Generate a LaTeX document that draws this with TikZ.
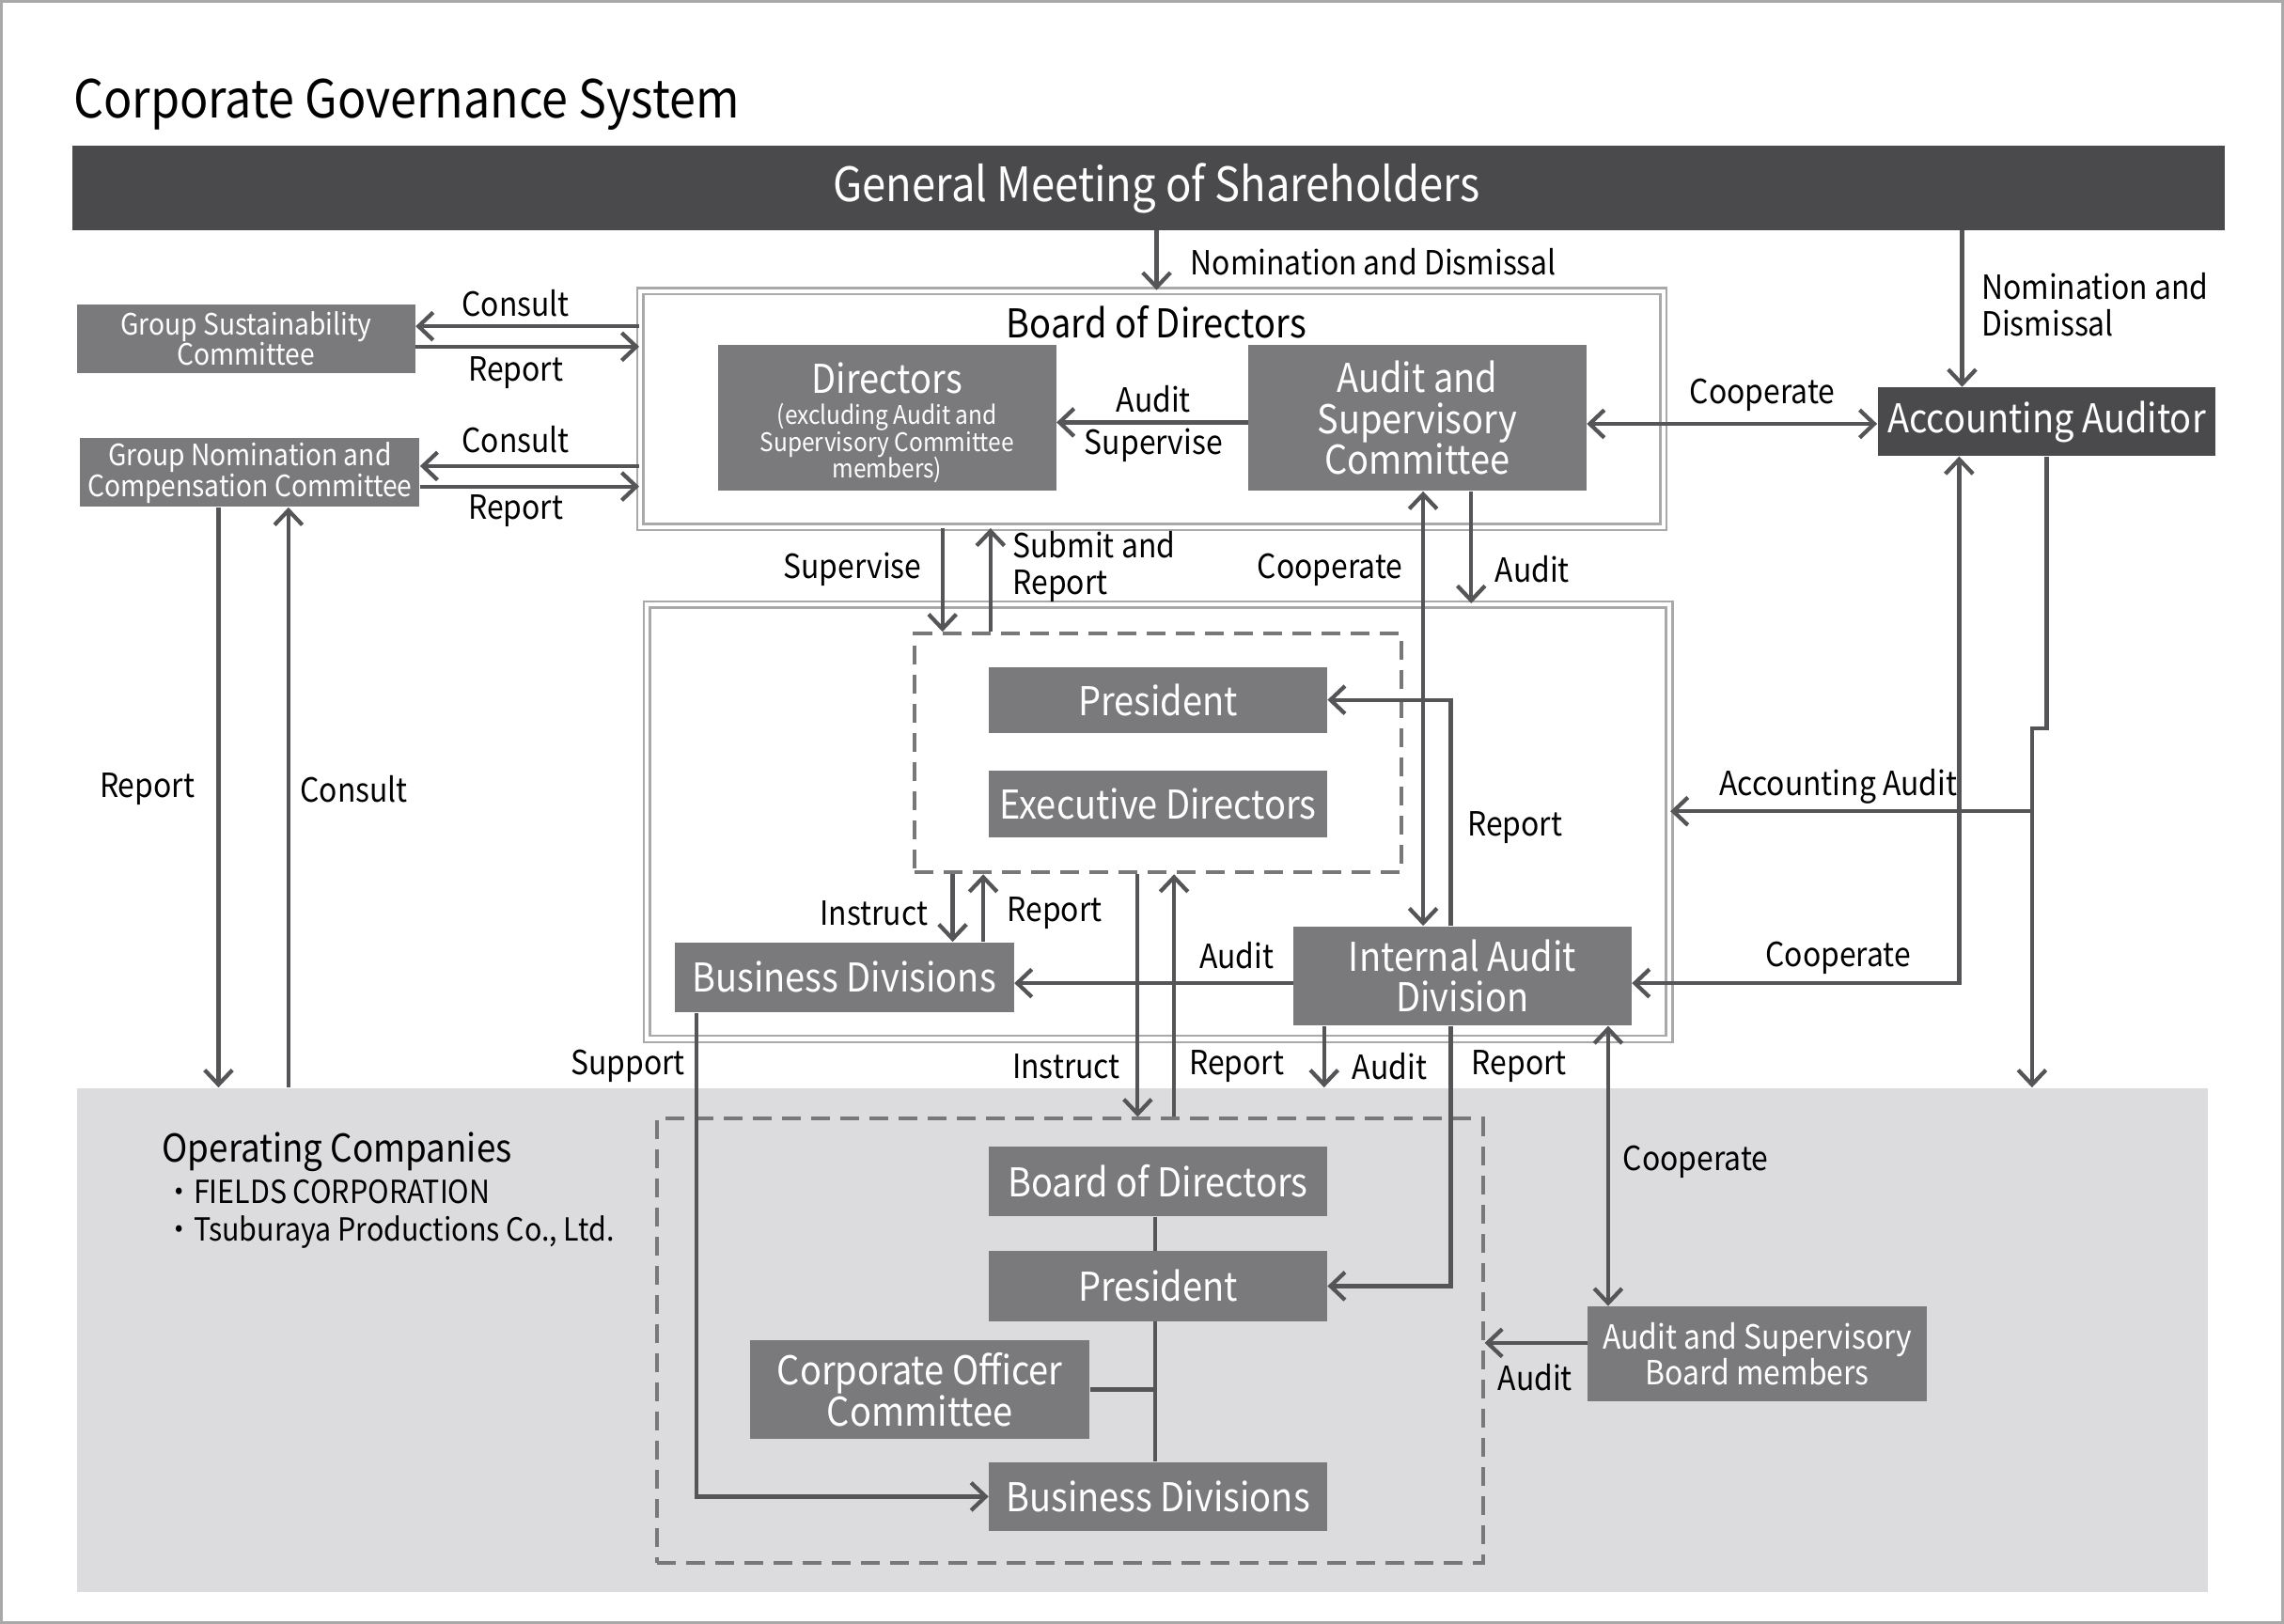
\documentclass[tikz,border=0pt]{standalone}
\usepackage{fontspec}
\setmainfont{Noto Sans CJK JP}[FakeStretch=0.9]
\usetikzlibrary{arrows.meta}
\definecolor{boxg}{HTML}{7A7A7C}
\definecolor{darkg}{HTML}{4A4A4C}
\definecolor{lineg}{HTML}{555557}
\definecolor{frameg}{HTML}{A9A9A9}
\definecolor{areag}{HTML}{DCDCDE}
\definecolor{dashg}{HTML}{787878}
\newcommand\dirnote{\fontsize{10}{10.6}\selectfont}
\begin{document}
\begin{tikzpicture}[
    x=0.2mm, y=-0.2mm,
    >={Straight Barb[length=2mm,width=3.8mm]},
    every node/.style={inner sep=0},
    box/.style={fill=boxg, text=white, align=center, minimum width=46.4mm, minimum height=9.4mm,
        font=\fontsize{15.5}{16}\selectfont},
    darkbox/.style={box, fill=darkg},
    smallbox/.style={box, font=\fontsize{11.5}{12}\selectfont},
    dblframe/.style={draw=frameg, line width=0.3mm, double=white, double distance=0.58mm},
    dashbox/.style={draw=dashg, line width=0.5mm, dash pattern=on 2.6mm off 1.4mm},
    conn/.style={draw=lineg, line width=0.55mm},
    lbl/.style={font=\fontsize{13}{14.5}\selectfont, align=left}]
    \useasboundingbox (0,0) rectangle (1568,1115);
    \draw[frameg, line width=0.5mm] (1,1) rectangle (1567,1114);
    \node (opc) [fill=areag, minimum width=292.6mm, minimum height=69.2mm] at (784.5,920) {};
    \node (title) [anchor=base west, font=\fontsize{20.5}{24}\selectfont] at (50,81) {Corporate Governance System};
    \node (gms) [darkbox, minimum width=295.4mm, minimum height=11.6mm, font=\fontsize{18.5}{22}\selectfont] at (788.5,129) {\hspace*{2.2mm}General Meeting of Shareholders};
    \node (bod) [dblframe, minimum width=140.5mm, minimum height=32.4mm] at (790.8,280.9) {};
    \node (bodt) [font=\fontsize{15.5}{17}\selectfont] at (794,221) {Board of Directors};
    \node (dir) [box, minimum height=20mm] at (609,287) {\rule{0pt}{16pt}Directors\\[-4pt]\dirnote (excluding Audit and\\[-5.5pt]\dirnote Supervisory Committee\\[-5.5pt]\dirnote members)};
    \node (asc) [box, minimum height=20mm] at (973,287) {Audit and\\Supervisory\\Committee};
    \node (gsc) [smallbox] at (169,232.5) {Group Sustainability\\Committee};
    \node (gncc) [smallbox, minimum width=46.6mm] at (171.5,324.5) {Group Nomination and\\Compensation Committee};
    \node (aa) [darkbox] at (1405,289.5) {Accounting Auditor};
    \node (exe) [dblframe, minimum width=140.4mm, minimum height=59.7mm] at (795,564.2) {};
    \node (exd) [dashbox, minimum width=66.8mm, minimum height=32.8mm] at (795,517) {};
    \node (pres) [box, minimum height=9mm] at (795,480.5) {President};
    \node (exdir) [box, minimum height=9.2mm] at (795,552) {Executive Directors};
    \node (bd) [box, minimum width=46.6mm, minimum height=9.6mm] at (579.5,671) {Business Divisions};
    \node (iad) [box, minimum height=13.6mm] at (1004,670) {Internal Audit\\Division};
    \node (opd) [dashbox, minimum width=113.4mm, minimum height=61mm] at (734.5,920.5) {};
    \node (obod) [box, minimum height=9.6mm] at (795,811) {Board of Directors};
    \node (opres) [box, minimum height=9.6mm] at (795,883) {President};
    \node (coc) [box, minimum width=46.6mm, minimum height=13.6mm] at (631.5,954) {Corporate Officer\\Committee};
    \node (obd) [box] at (795,1027.5) {Business Divisions};
    \node (asb) [box, minimum width=46.6mm, minimum height=13mm, font=\fontsize{13}{14.2}\selectfont] at (1206.5,929.5) {Audit and Supervisory\\Board members};
    \node (opt) [anchor=base west, font=\fontsize{15}{17}\selectfont] at (111,798) {Operating Companies};
    \node (op1) [anchor=base west, font=\fontsize{12.4}{14.8}\selectfont] at (113,826) {・FIELDS CORPORATION};
    \node (op2) [anchor=base west, font=\fontsize{12.4}{14.8}\selectfont] at (113,852) {・Tsuburaya Productions Co., Ltd.};
    \node (lnom) [lbl, anchor=west] at (817,180) {Nomination and Dismissal};
    \node (lnomaa) [lbl, anchor=west] at (1360,209) {Nomination and\\Dismissal};
    \node (lcon1) [lbl] at (354,208) {Consult};
    \node (lrep1) [lbl] at (354,256) {Report};
    \node (lcon2) [lbl] at (354,302) {Consult};
    \node (lrep2) [lbl] at (354,351) {Report};
    \node (laud1) [lbl] at (792,274) {Audit};
    \node (lsup1) [lbl] at (792,306) {Supervise};
    \node (lcoop1) [lbl] at (1210,271) {Cooperate};
    \node (lrep3) [lbl] at (101,542) {Report};
    \node (lcon3) [lbl] at (243,542) {Consult};
    \node (lsup2) [lbl, anchor=east] at (633,391) {Supervise};
    \node (lsub) [lbl, anchor=west] at (695,389) {Submit and\\Report};
    \node (lcoop2) [lbl] at (913,391) {Cooperate};
    \node (laud2) [lbl] at (1052,391) {Audit};
    \node (lrep4) [lbl] at (1040,568) {Report};
    \node (lacc) [lbl] at (1262,540) {Accounting Audit};
    \node (lcoop3) [lbl] at (1262,658) {Cooperate};
    \node (lins1) [lbl] at (600,627) {Instruct};
    \node (lrep5) [lbl] at (724,627) {Report};
    \node (laud3) [lbl] at (849,656) {Audit};
    \node (lspt) [lbl] at (431,732) {Support};
    \node (lins2) [lbl] at (732,732) {Instruct};
    \node (lrep6) [lbl] at (849,732) {Report};
    \node (laud4) [lbl] at (954,732) {Audit};
    \node (lrep7) [lbl] at (1043,732) {Report};
    \node (lcoop4) [lbl] at (1164,798) {Cooperate};
    \node (laud5) [lbl] at (1054,946) {Audit};
    \draw[conn,->] (794,0 |- gms.south) -- (794,0 |- bod.north);
    \draw[conn,->] (1347,0 |- gms.south) -- (1347,0 |- aa.north);
    \draw[conn,->] (bod.west |- 0,224) -- (gsc.east |- 0,224);
    \draw[conn,->] (gsc.east |- 0,238) -- (bod.west |- 0,238);
    \draw[conn,->] (bod.west |- 0,320) -- (gncc.east |- 0,320);
    \draw[conn,->] (gncc.east |- 0,334) -- (bod.west |- 0,334);
    \draw[conn,->] (150,0 |- gncc.south) -- (150,0 |- opc.north);
    \draw[conn,->] (198,0 |- opc.north) -- (198,0 |- gncc.south);
    \draw[conn,->] (asc.west |- 0,290) -- (dir.east |- 0,290);
    \draw[conn,<->] (asc.east |- 0,291) -- (aa.west |- 0,291);
    \draw[conn,->] (647,0 |- bod.south) -- (647,0 |- exd.north);
    \draw[conn,->] (680,0 |- exd.north) -- (680,0 |- bod.south);
    \draw[conn,<->] (977,0 |- asc.south) -- (977,0 |- iad.north);
    \draw[conn,->] (1010,0 |- asc.south) -- (1010,0 |- exe.north);
    \draw[conn,->] (996,0 |- iad.north) |- (pres.east);
    \draw[conn,->] (654,0 |- exd.south) -- (654,0 |- bd.north);
    \draw[conn,->] (675,0 |- bd.north) -- (675,0 |- exd.south);
    \draw[conn,->] (iad.west |- 0,675) -- (bd.east |- 0,675);
    \draw[conn,->] (1405,0 |- aa.south) -- (1405,500) -- (1395,500) -- (1395,0 |- opc.north);
    \coordinate (accj) at (1395,557);
    \draw[conn,->] (accj) -- (exe.east |- accj);
    \draw[conn,<->] (1345,0 |- aa.south) |- (iad.east |- 0,675);
    \draw[conn,->] (478,0 |- bd.south) |- (obd.west);
    \draw[conn,->] (781,0 |- exd.south) -- (781,0 |- opd.north);
    \draw[conn,->] (806,0 |- opd.north) -- (806,0 |- exd.south);
    \draw[conn,->] (909,0 |- iad.south) -- (909,0 |- opc.north);
    \draw[conn,->] (996,0 |- iad.south) |- (opres.east);
    \draw[conn,<->] (1104,0 |- iad.south) -- (1104,0 |- asb.north);
    \draw[conn,->] (asb.west |- 0,922) -- (opd.east |- 0,922);
    \draw[conn] (793,0 |- obod.south) -- (793,0 |- opres.north)
        (793,0 |- opres.south) -- (793,0 |- obd.north)
        (coc.east) -- (793,0 |- coc.east);
\end{tikzpicture}
\end{document}
